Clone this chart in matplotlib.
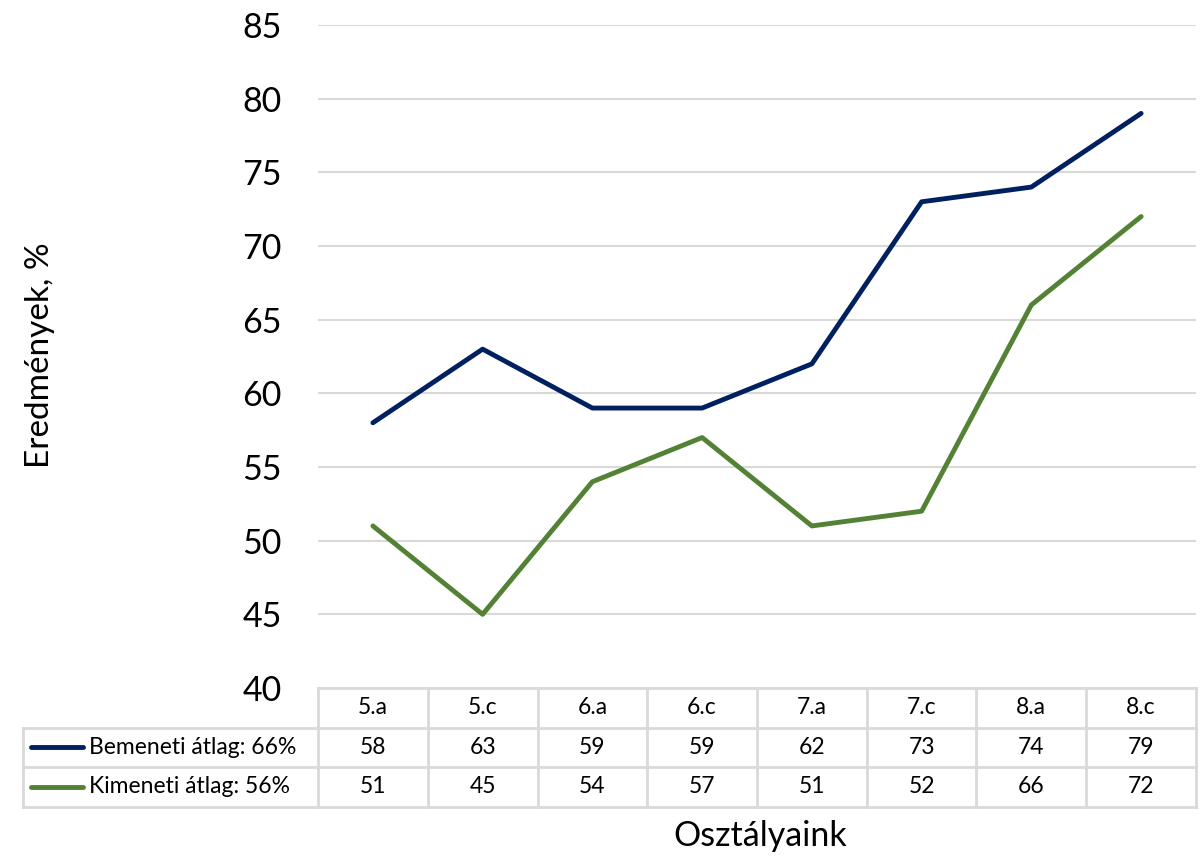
import numpy as np
import matplotlib.pyplot as plt

plt.rcParams['font.family'] = ['Lato', 'DejaVu Sans']

# data
osztalyok = ['5.a', '5.c', '6.a', '6.c', '7.a', '7.c', '8.a', '8.c']
bemeneti = [58, 63, 59, 59, 62, 73, 74, 79]
kimeneti = [51, 45, 54, 57, 51, 52, 66, 72]
sorozat_nevek = ['Bemeneti átlag: 66%', 'Kimeneti átlag: 56%']
szinek = ['#002060', '#548235']
y_ticks = [40, 45, 50, 55, 60, 65, 70, 75, 80, 85]

W, H = 1201, 856
fig = plt.figure(figsize=(W / 100, H / 100), dpi=100)
# plot area in pixels: x 318..1196, y 25..688
ax = fig.add_axes([318 / W, 1 - 688 / H, (1196 - 318) / W, (688 - 25) / H])

x = np.arange(len(osztalyok)) + 0.5
for vals, c in zip([bemeneti, kimeneti], szinek):
    ax.plot(x, vals, color=c, lw=3.5, solid_capstyle='round', zorder=3)

ax.set_xlim(0, len(osztalyok))
ax.set_ylim(40, 85)
ax.set_yticks(y_ticks)
ax.grid(axis='y', color='#d9d9d9', lw=1.5)
ax.set_axisbelow(True)
for s in ax.spines.values():
    s.set_visible(False)
ax.set_xticks([])
ax.tick_params(axis='y', length=0, labelsize=24.5, pad=26)

# data table under the axes
grid_c = '#d9d9d9'
tr = ax.get_xaxis_transform()
h = 39.5 / (688 - 25)
n = len(osztalyok)
left = -(318 - 22) / 110.0
kw = dict(color=grid_c, lw=2, transform=tr, clip_on=False)
# horizontal lines
ax.plot([0, n], [0, 0], **kw)
ax.plot([left, n], [-h, -h], **kw)
ax.plot([left, n], [-2 * h, -2 * h], **kw)
ax.plot([left, n], [-3 * h, -3 * h], **kw)
# vertical lines
for i in range(n + 1):
    ax.plot([i, i], [0, -3 * h], **kw)
ax.plot([left, left], [-h, -3 * h], **kw)

fs = 16.5
for i, lab in enumerate(osztalyok):
    ax.text(i + 0.5, -0.5 * h, lab, transform=tr, ha='center', va='center', fontsize=fs)
for r, (vals, name, c) in enumerate(zip([bemeneti, kimeneti], sorozat_nevek, szinek)):
    yc = -(r + 1.5) * h
    for i, v in enumerate(vals):
        ax.text(i + 0.5, yc, str(v), transform=tr, ha='center', va='center', fontsize=fs)
    ax.plot([left + 8 / 110, left + 60 / 110], [yc, yc], color=c, lw=3.5,
            solid_capstyle='round', transform=tr, clip_on=False)
    ax.text(left + 66 / 110, yc, name, transform=tr, ha='left', va='center', fontsize=fs)

fig.text(40 / W, 1 - 355 / H, 'Eredmények, %', rotation=90, ha='center', va='center', fontsize=24)
fig.text(760 / W, 1 - 836 / H, 'Osztályaink', ha='center', va='center', fontsize=24.5)

fig.savefig('out.png', dpi=100)
